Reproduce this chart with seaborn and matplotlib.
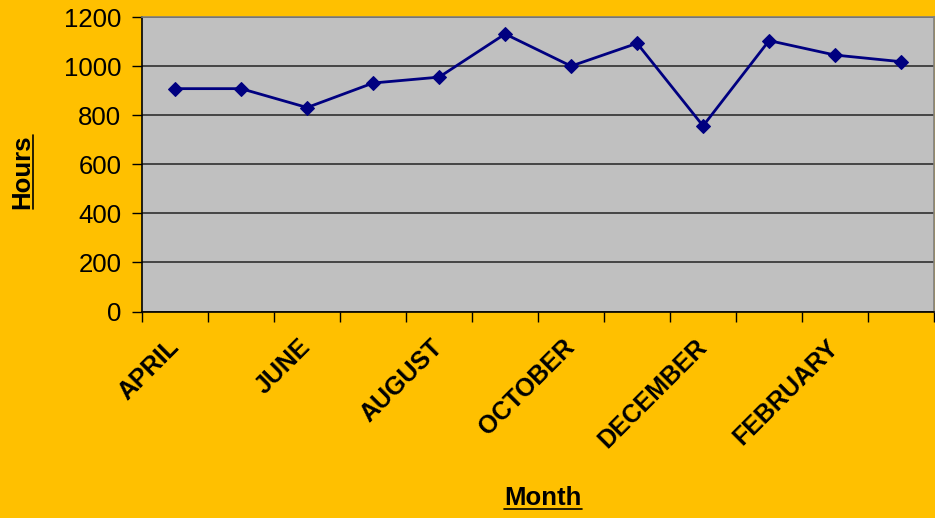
import numpy as np
import pandas as pd
import seaborn as sns
import matplotlib.pyplot as plt
from matplotlib.lines import Line2D

months = ['APRIL', 'MAY', 'JUNE', 'JULY', 'AUGUST', 'SEPTEMBER', 'OCTOBER',
          'NOVEMBER', 'DECEMBER', 'JANUARY', 'FEBRUARY', 'MARCH']
hours = [909, 909, 832, 932, 956, 1132, 1001, 1094, 757, 1105, 1046, 1019]
y_ticks = [0, 200, 400, 600, 800, 1000, 1200]

sns.set_style('white')
plt.rcParams['font.family'] = ['Liberation Sans', 'DejaVu Sans']
plt.rcParams['text.color'] = 'black'
plt.rcParams['axes.labelcolor'] = 'black'
plt.rcParams['xtick.color'] = 'black'
plt.rcParams['ytick.color'] = 'black'

df = pd.DataFrame({'pos': np.arange(len(months)), 'month': months, 'hours': hours})

W, H = 935, 518
fig = plt.figure(figsize=(W / 100, H / 100), dpi=100, facecolor='#FFC000')
ax = fig.add_axes([0.152, 0.3986, 0.847, 0.568])
ax.set_facecolor('#C0C0C0')

sns.lineplot(data=df, x='pos', y='hours', ax=ax, color='#000080', linewidth=2,
             marker='D', markersize=7.5, markeredgecolor='#000080')

ax.set_xlim(-0.5, len(months) - 0.5)
ax.set_ylim(0, 1200)
ax.set_yticks(y_ticks)
ax.set_yticklabels([str(v) for v in y_ticks], fontsize=18.5)
ax.yaxis.grid(True, color='#3a3a3a', linewidth=1.3)
ax.set_axisbelow(True)

# labels on every other month, tick marks between categories
ax.set_xticks(df['pos'])
ax.set_xticklabels([m if i % 2 == 0 else '' for i, m in enumerate(months)],
                   rotation=45, ha='right', va='center', rotation_mode='anchor',
                   fontsize=18, fontweight='bold')
ax.tick_params(axis='x', which='major', length=0, pad=23)
ax.set_xticks(np.arange(-0.5, len(months), 1), minor=True)
ax.tick_params(axis='x', which='minor', length=7, width=1, direction='out', bottom=True)
ax.tick_params(axis='y', length=7, width=1, direction='out', left=True, pad=8)

for side in ['left', 'bottom']:
    ax.spines[side].set_color('black')
    ax.spines[side].set_linewidth(1.2)
for side in ['top', 'right']:
    ax.spines[side].set_color('#808080')
    ax.spines[side].set_linewidth(1.2)

ax.set_xlabel('Month', fontsize=18.5, fontweight='bold', va='center')
ax.set_ylabel('Hours', fontsize=18.5, fontweight='bold', va='center')
ax.xaxis.set_label_coords(0.506, -0.635)
ax.yaxis.set_label_coords(-0.1515, 0.474)

# underline the axis titles
fig.canvas.draw()
bb = ax.xaxis.label.get_window_extent()
fig.add_artist(Line2D([bb.x0 / W, bb.x1 / W], [(bb.y0 + 1) / H] * 2,
                      transform=fig.transFigure, color='black', linewidth=1.2))
bb = ax.yaxis.label.get_window_extent()
fig.add_artist(Line2D([(bb.x1 - 1) / W] * 2, [bb.y0 / H, bb.y1 / H],
                      transform=fig.transFigure, color='black', linewidth=1.2))

fig.savefig('out.png', dpi=100, facecolor=fig.get_facecolor())
